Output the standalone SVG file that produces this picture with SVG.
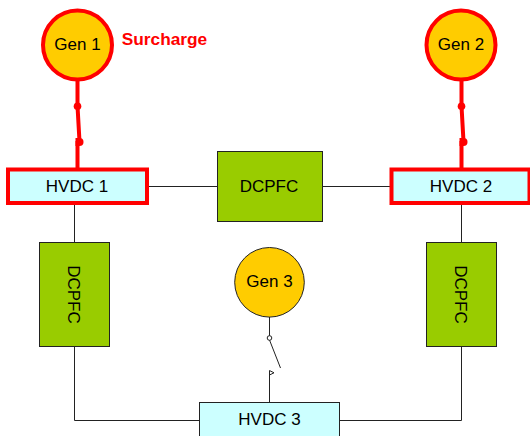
<svg xmlns="http://www.w3.org/2000/svg" width="530" height="436" viewBox="0 0 530 436">
<style>
text{font-family:"Liberation Sans",Arial,sans-serif;font-size:17px;fill:#000;text-anchor:middle}
.thin{fill:none;stroke:#222;stroke-width:1}
.red{fill:none;stroke:#f00;stroke-width:4}
.dot{fill:#f00;stroke:none}
.gen{fill:#fc0;stroke:#222;stroke-width:1}
.genr{fill:#fc0;stroke:#f00;stroke-width:4}
.hv{fill:#cff;stroke:#222;stroke-width:1}
.hvr{fill:#cff;stroke:#f00;stroke-width:4}
.pf{fill:#9c0;stroke:#222;stroke-width:1}
</style>
<g id="connectors">
<path class="thin" d="M148 186.500H218M322 186.500H391M74.500 204V242M74.500 347V420.500H200M461.500 204V242M461.500 347V420.500H339M269.500 317V336M269.500 340L280.500 368M269.500 371V403"/>
<circle cx="269.500" cy="338" r="2.300" fill="#fff" stroke="#222" stroke-width="1"/>
<path d="M269.500 370.500L274 372.800L269.500 375Z" fill="#fff" stroke="#222" stroke-width="1"/>
<path class="red" d="M77.500 80V106L79.500 141.500M77.500 141V168M461.500 80V106L463.500 141.500M461.500 141V168"/>
<circle class="dot" cx="77.500" cy="106.300" r="3.800"/>
<path class="dot" d="M75.500 138H79.500A3.800 3.800 0 0 1 79.500 146H75.500Z"/>
<circle class="dot" cx="461.500" cy="106.300" r="3.800"/>
<path class="dot" d="M459.500 138H463.500A3.800 3.800 0 0 1 463.500 146H459.500Z"/>
</g>
<g id="gen1"><circle class="genr" cx="77.500" cy="45" r="34.500"/><text x="77.500" y="50">Gen 1</text></g>
<g id="gen2"><circle class="genr" cx="461" cy="45" r="34.500"/><text x="461" y="50">Gen 2</text></g>
<g id="gen3"><circle class="gen" cx="269.500" cy="282.300" r="34.800"/><text x="269.500" y="287">Gen 3</text></g>
<g id="surcharge"><text x="164.500" y="45" style="fill:#f00;font-weight:bold;font-size:17.300px">Surcharge</text></g>
<g id="hvdc1"><rect class="hvr" x="8" y="169.500" width="139" height="33.500"/><text x="77" y="191.500">HVDC 1</text></g>
<g id="hvdc2"><rect class="hvr" x="391.500" y="169.500" width="138" height="33.500"/><text x="461" y="191.500">HVDC 2</text></g>
<g id="hvdc3"><rect class="hv" x="199.500" y="402.500" width="140" height="40"/><text x="269.500" y="424.500">HVDC 3</text></g>
<g id="dcpfc-top"><rect class="pf" x="217.500" y="151.500" width="105" height="70"/><text x="269" y="192">DCPFC</text></g>
<g id="dcpfc-left"><rect class="pf" x="39.500" y="242.500" width="70" height="104"/><text transform="translate(68 294.500) rotate(90)">DCPFC</text></g>
<g id="dcpfc-right"><rect class="pf" x="426.500" y="242.500" width="70" height="104"/><text transform="translate(455 294.500) rotate(90)">DCPFC</text></g>
</svg>
